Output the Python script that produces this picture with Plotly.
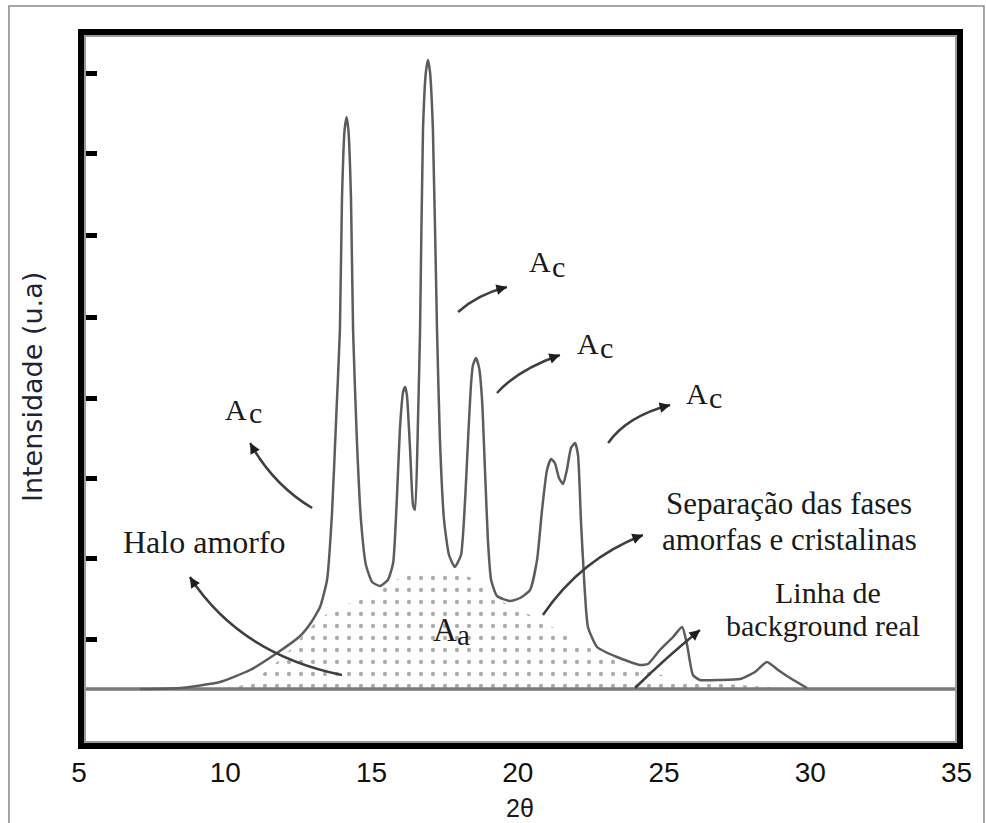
import plotly.graph_objects as go

# ---------------- data ----------------
two_theta = [7.09, 8.45, 9.82, 10.85, 11.77, 12.56, 12.90, 13.24, 13.48, 13.65,
             13.79, 13.92, 13.99, 14.08, 14.15, 14.21, 14.30, 14.37, 14.50, 14.64,
             14.81, 15.02, 15.29, 15.56, 15.74, 15.87, 15.97, 16.08, 16.15, 16.21,
             16.32, 16.42, 16.49, 16.59, 16.66, 16.76, 16.86, 16.93, 17.00, 17.10,
             17.24, 17.34, 17.48, 17.65, 17.85, 18.06, 18.20, 18.30, 18.40, 18.47,
             18.57, 18.68, 18.78, 18.88, 18.98, 19.09, 19.29, 19.74, 20.08, 20.42,
             20.66, 20.83, 21.00, 21.14, 21.27, 21.41, 21.55, 21.68, 21.82, 21.96,
             22.06, 22.16, 22.27, 22.40, 22.71, 23.39, 24.18, 24.45, 24.86, 25.31,
             25.62, 25.79, 25.99, 26.23, 26.92, 27.60, 28.11, 28.52, 28.90, 29.31,
             29.89]
intensity = [0, 1, 7, 19, 36, 53, 65, 82, 109, 176,
             269, 359, 489, 559, 572, 559, 489, 359, 249, 169,
             124, 107, 103, 109, 126, 192, 259, 297, 302, 294,
             239, 184, 179, 269, 359, 559, 617, 629, 617, 559,
             359, 249, 169, 134, 122, 134, 189, 249, 304, 324,
             331, 321, 289, 219, 149, 109, 93, 88, 91, 99,
             129, 179, 219, 230, 226, 211, 205, 219, 241, 246,
             234, 169, 109, 62, 42, 32, 24, 25, 39, 52,
             62, 44, 14, 9, 9, 10, 17, 27, 19, 11,
             1]

halo_two_theta = [8.11, 10.61, 11.53, 12.21, 13.00, 13.68, 14.85, 15.46, 16.15, 17.00,
                  17.85, 18.54, 19.39, 20.76, 22.13, 23.94, 25.55, 27.60, 29.65]
halo_intensity = [0, 4, 21, 39, 64, 79, 92, 103, 113, 118,
                  117, 109, 89, 69, 46, 22, 10, 4, 0]

baseline_two_theta = [5, 35.2]
baseline_intensity = [0, 0]

x_tick_values = [5, 10, 15, 20, 25, 30, 35]
x_tick_text = ["5", "10", "15", "20", "25", "30", "35"]
y_tick_values = [50, 131, 211, 291, 372, 454, 536, 616]

SERIF = "Liberation Serif, Times New Roman, serif"
SANS = "Liberation Sans, Arial, sans-serif"
TXT = "#1a1a1a"

fig = go.Figure()

# amorphous halo (dotted area)
fig.add_trace(go.Scatter(
    x=halo_two_theta, y=halo_intensity, mode="lines",
    line=dict(width=0, color="rgba(0,0,0,0)", shape="spline", smoothing=0.8),
    fill="tozeroy", fillcolor="white",
    fillpattern=dict(shape=".", fgcolor="#5a5a5a", bgcolor="white", size=12, solidity=0.1),
    hoverinfo="skip", showlegend=False))

# background line
fig.add_trace(go.Scatter(
    x=baseline_two_theta, y=baseline_intensity, mode="lines",
    line=dict(color="#7a7a7a", width=3.5), hoverinfo="skip", showlegend=False))

# diffractogram
fig.add_trace(go.Scatter(
    x=two_theta, y=intensity, mode="lines",
    line=dict(color="#5c5c5c", width=2.5, shape="spline", smoothing=0.5),
    hoverinfo="skip", showlegend=False))

# ---------------- curved arrows ----------------
arrows = [
    # (start, control, end, ax, ay)
    ((13.99, 14), (10.50, 35), (8.79, 112), 6.5, 10.1),      # Halo amorfo
    ((12.97, 181), (11.63, 204.5), (10.85, 246), 5.8, 10.5),  # Ac left
    ((17.96, 377), (18.62, 394.5), (19.63, 402), -11.6, 3.0),  # Ac top
    ((19.29, 296), (19.99, 319), (21.44, 334), -11.3, 4.0),    # Ac middle
    ((23.09, 246), (23.74, 273), (25.21, 284), -11.6, 3.0),    # Ac right
    ((20.86, 74), (22.16, 130), (24.28, 154), -11.2, 4.3),     # separação
    ((24.01, 1), (25.09, 32), (26.23, 59), -9.3, 7.5),         # background
]
shapes = []
annotations = []
for (p0, p1, p2, ax, ay) in arrows:
    shapes.append(dict(type="path", xref="x", yref="y",
                       path=f"M {p0[0]},{p0[1]} Q {p1[0]},{p1[1]} {p2[0]},{p2[1]}",
                       line=dict(color="#3f3f3f", width=2.5)))
    annotations.append(dict(x=p2[0], y=p2[1], xref="x", yref="y", text="",
                            showarrow=True, ax=ax, ay=ay, arrowhead=2,
                            arrowsize=0.7, arrowwidth=3, arrowcolor="#1e1e1e"))

# frame
shapes.append(dict(type="rect", xref="paper", yref="paper", x0=0.0023, x1=1, y0=0, y1=1,
                   line=dict(color="black", width=6), layer="above"))
shapes.append(dict(type="rect", xref="paper", yref="paper", x0=0.0068, x1=0.9955,
                   y0=0.0056, y1=0.9944, line=dict(color="#9a9a9a", width=2), layer="above"))
# outer image border
shapes.append(dict(type="rect", xref="paper", yref="paper", x0=-0.0795, x1=1.0272,
                   y0=-0.2, y1=1.0364, line=dict(color="#8a8a8a", width=1.5), layer="above"))

def txt(x, y, s, size=31, family=SERIF, **kw):
    d = dict(x=x, y=y, xref="x", yref="y", text=s, showarrow=False,
             xanchor="center", yanchor="middle", borderpad=0,
             font=dict(family=family, size=size, color=TXT))
    d.update(kw)
    annotations.append(d)

txt(9.29, 147.5, "Halo amorfo", size=32)
txt(29.29, 186, "Separação das fases", size=31)
txt(29.29, 150, "amorfas e cristalinas", size=31)
txt(30.59, 97, "Linha de", size=30)
txt(30.42, 64, "background real", size=30)

for (ax_, ay_, cx, cy) in [(10.37, 279.5, 11.03, 277), (20.76, 427.5, 21.40, 423),
                           (22.40, 345.5, 23.04, 342), (26.13, 295.5, 26.77, 292)]:
    txt(ax_, ay_, "A", size=30)
    txt(cx, cy, "c", size=30)

txt(17.51, 59, "A", size=33)
txt(18.16, 54, "a", size=29)

# axis titles
annotations.append(dict(x=-0.0533, y=0.5028, xref="paper", yref="paper",
                        text="Intensidade (u.a)", textangle=-90, showarrow=False,
                        xanchor="center", yanchor="middle",
                        font=dict(family="DejaVu Sans, sans-serif", size=27, color="#1e2433")))
annotations.append(dict(x=20.08, y=-0.087, xref="x", yref="paper", text="2θ",
                        showarrow=False, xanchor="center", yanchor="middle", borderpad=0,
                        font=dict(family=SANS, size=25, color=TXT)))

fig.update_layout(
    width=986, height=823,
    margin=dict(l=79, r=26, t=32, b=77, pad=0),
    paper_bgcolor="white", plot_bgcolor="white",
    showlegend=False,
    shapes=shapes, annotations=annotations,
    xaxis=dict(range=[5, 35.12], tickvals=x_tick_values, ticktext=x_tick_text,
               showgrid=False, zeroline=False, showline=False, ticks="",
               tickfont=dict(family=SANS, size=28, color="#111"),
               ticklabelstandoff=7),
    yaxis=dict(range=[-57, 657], tickvals=y_tick_values, showticklabels=False,
               showgrid=False, zeroline=False, showline=False,
               ticks="inside", ticklen=18, tickwidth=5, tickcolor="black"),
)

fig.write_html("out.html")
